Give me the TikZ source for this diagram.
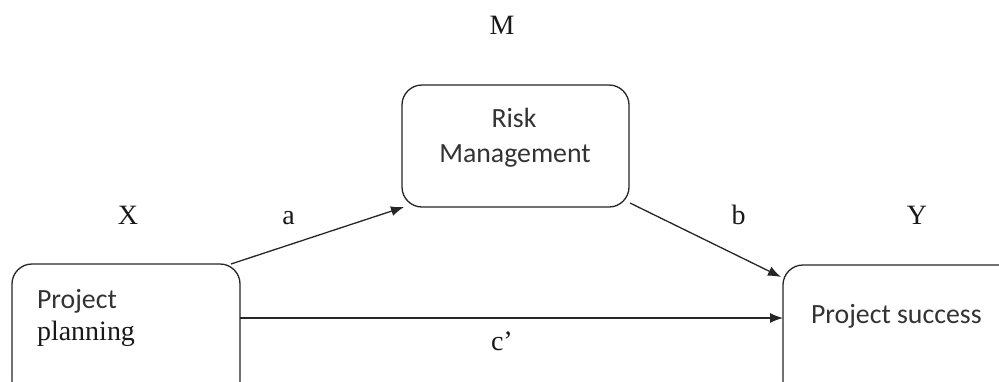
\documentclass[tikz,border=0pt]{standalone}
\usepackage{fontspec}
\setmainfont{Liberation Serif}
\newfontfamily\calibfont{Carlito}
\usetikzlibrary{arrows.meta}
\begin{document}
\begin{tikzpicture}[x=1pt,y=-1pt,
  box/.style={draw=black!85, line width=1.3pt, rounded corners=20pt, inner sep=0pt, outer sep=0pt},
  lbl/.style={inner sep=0pt, outer sep=0pt, text=black!90, font=\fontsize{28}{33}\selectfont},
  sanslbl/.style={inner sep=0pt, outer sep=0pt, text=black!80, font=\calibfont\fontsize{27.8}{33}\selectfont},
  conn/.style={draw=black!85, line width=1.3pt, -{Latex[length=13pt,width=10pt]}}]
\useasboundingbox (0,0) rectangle (999,381);
\clip (0,0) rectangle (999,381);
\fill[white] (0,0) rectangle (999,381);
% boxes
\node[box, minimum width=228pt, minimum height=150pt] (pp) at (126,339) {};
\node[box, minimum width=227pt, minimum height=122pt] (rm) at (515.5,146) {};
\node[box, minimum width=250pt, minimum height=150pt] (ps) at (908,340) {};
% box texts
\node[sanslbl, anchor=base west] (pp1) at (37,308) {Project};
\node[lbl, anchor=base west] (pp2) at (37,340) {planning};
\node[sanslbl, anchor=base] (rm1) at (514,127) {Risk};
\node[sanslbl, anchor=base] (rm2) at (515,162) {Management};
\node[sanslbl, anchor=base west] (ps1) at (811,323) {Project success};
% labels
\node[lbl, anchor=base] (lm) at (502,34) {M};
\node[lbl, anchor=base] (lx) at (128,224) {X};
\node[lbl, anchor=base] (la) at (288.5,224) {a};
\node[lbl, anchor=base] (lb) at (738.5,224) {b};
\node[lbl, anchor=base] (ly) at (917,224) {Y};
\node[lbl, anchor=base west] (lc) at (491,350) {c’};
% connectors
\draw[conn] ([xshift=-9pt]pp.north east) -- ([xshift=2pt]rm.south west);
\draw[conn] ([xshift=1pt,yshift=4pt]rm.south east) -- ([xshift=-2pt,yshift=-12pt]ps.north west);
\coordinate (cs) at ([yshift=21pt]pp.east);
\draw[conn] (cs) -- (cs -| ps.west);
\end{tikzpicture}
\end{document}
